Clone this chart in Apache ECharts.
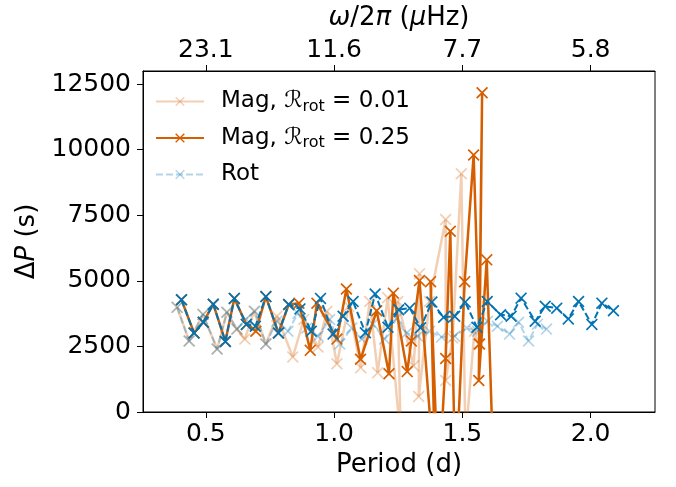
<!DOCTYPE html>
<html><head><meta charset="utf-8">
<script src="https://cdn.jsdelivr.net/npm/echarts@6/dist/echarts.min.js"></script>
<style>html,body{margin:0;padding:0;background:#fff}#c{width:676px;height:487px}</style>
</head><body><div id="c"></div>
<script>
// ---- data (Period in days, ΔP in seconds) ----
const rotDarkP = [0.405,0.454,0.490,0.529,0.576,0.611,0.658,0.693,0.734,0.783,0.823,0.867,0.911,0.947,0.996,1.035,1.074,1.122,1.160,1.210,1.252,1.295,1.337,1.381,1.427,1.470,1.511,1.557,1.597,1.649,1.690,1.729,1.784,1.823,1.868,1.913,1.953,2.005,2.044,2.089];
const rotDarkV = [4280,3010,3420,4110,2690,4330,3340,3270,4400,3010,4100,3930,3080,4330,2970,3650,4210,3020,4500,3230,3900,3960,3210,4190,3610,3650,4190,3230,4210,3710,3650,4340,3460,4030,3960,3550,4210,3340,4150,3860];

const mag025P = [0.405,0.454,0.490,0.529,0.576,0.611,0.658,0.695,0.734,0.783,0.823,0.863,0.907,0.933,1.011,1.048,1.103,1.166,1.214,1.231,1.285,1.301,1.333,1.396,1.376,1.407,1.435,1.453,1.473,1.509,1.544,1.567,1.577,1.564,1.595,1.624];
const mag025V = [4280,3010,3420,4110,2690,4330,3340,3080,4400,3010,4100,4150,2350,4150,2780,4690,2010,3860,1460,4530,1540,2710,5010,-3000,4970,-3000,2040,6890,-3000,4970,9800,2590,12170,1200,5800,-3000];

const rotLightP = [0.388,0.435,0.489,0.544,0.582,0.621,0.656,0.691,0.734,0.777,0.820,0.859,0.894,0.937,0.983,1.022,1.069,1.108,1.151,1.197,1.244,1.283,1.326,1.372,1.419,1.470,1.517,1.559,1.598,1.637,1.684,1.719,1.758,1.793,1.828];
const rotLightV = [3990,2705,3720,2400,3800,3160,3530,3840,2590,3460,3080,3760,3200,2890,3530,2590,3200,2780,3350,2780,3570,3010,2890,3080,2855,2890,3200,3080,3460,3270,2970,3420,2705,3350,3160];

const mag001P = [0.388,0.435,0.489,0.544,0.582,0.621,0.652,0.688,0.734,0.777,0.839,0.882,0.937,0.972,1.011,1.057,1.104,1.139,1.170,1.209,1.260,1.248,1.310,1.333,1.330,1.372,1.435,1.435,1.462,1.496,1.512,1.547,1.563];
const mag001V = [3990,2705,3720,2400,3800,3160,2780,3840,2590,3650,2100,3530,2480,3840,1840,4030,1690,4210,1500,4360,-1100,4210,1760,5270,590,4210,7340,1200,2820,9080,-1100,3080,2590];

const yTicks = [0,2500,5000,7500,10000,12500];
const xTicks = [0.5,1.0,1.5,2.0];
const topLabels = ['23.1','11.6','7.7','5.8'];

const ORANGE = '#d55e00', BLUE = '#0173b2';
const FONT = 'DejaVu Sans';
const XPATH = 'path://M0,1L1,0L5,4L9,0L10,1L6,5L10,9L9,10L5,6L1,10L0,9L4,5Z';

function pairs(p, v){ return p.map((x,i)=>[x, v[i]]); }

function ser(name, p, v, color, opacity, dashed, z){
  return {
    name, type:'line', data: pairs(p,v), z,
    symbol: XPATH, symbolSize: 12, showSymbol:true,
    clip: true, animation:false,
    lineStyle:{color, width: dashed?2:2.5, opacity, type: dashed?[7,3]:'solid'},
    itemStyle:{color, opacity},
    emphasis:{disabled:true}
  };
}

const chart = echarts.init(document.getElementById('c'), null, {renderer:'canvas'});
chart.setOption({
  backgroundColor:'#fff',
  textStyle:{fontFamily:FONT},
  grid:{left:143, right:21, top:67, bottom:75, show:true, borderColor:'#000', borderWidth:1, backgroundColor:'transparent'},
  legend:{
    show:true, orient:'vertical', left:150, top:85, itemWidth:48, itemHeight:12, itemGap:12,
    data:['mag001','mag025','rot'],
    textStyle:{fontFamily:FONT, fontSize:23, color:'#000', padding:[0,0,0,12],
      rich:{r:{fontFamily:FONT, fontSize:23, fontStyle:'italic'}, s:{fontFamily:FONT, fontSize:16, padding:[10,0,0,0]}}},
    formatter:function(n){
      if(n==='mag001') return 'Mag, {r|ℛ}{s|rot} = 0.01';
      if(n==='mag025') return 'Mag, {r|ℛ}{s|rot} = 0.25';
      return 'Rot';
    }
  },
  xAxis:[{
    type:'value', min:0.255, max:2.251, position:'bottom',
    axisLine:{show:true, onZero:false, lineStyle:{color:'#000', width:1}},
    axisTick:{show:true, length:6, lineStyle:{color:'#000'}, customValues:xTicks},
    axisLabel:{customValues:xTicks, fontSize:25, color:'#000', fontFamily:FONT, margin:10, formatter:v=>v.toFixed(1)},
    splitLine:{show:false},
    name:'Period (d)', nameLocation:'middle', nameGap:40,
    nameTextStyle:{fontSize:26, color:'#000', fontFamily:FONT}
  },{
    type:'value', min:0.255, max:2.251, position:'top',
    axisLine:{show:true, onZero:false, lineStyle:{color:'#000', width:1}},
    axisTick:{show:true, length:6, lineStyle:{color:'#000'}, customValues:xTicks},
    axisLabel:{customValues:xTicks, fontSize:25, color:'#000', fontFamily:FONT, margin:8,
      formatter:function(v){ const i = xTicks.findIndex(t=>Math.abs(t-v)<1e-6); return i>=0?topLabels[i]:''; }},
    splitLine:{show:false},
    name:'{i|ω}/2{i|π} ({i|μ}Hz)', nameLocation:'middle', nameGap:40,
    nameTextStyle:{fontSize:26, color:'#000', fontFamily:FONT, rich:{i:{fontSize:26, fontStyle:'italic', fontFamily:FONT}}}
  }],
  yAxis:{
    type:'value', min:0, max:13000,
    axisLine:{show:true, onZero:false, lineStyle:{color:'#000', width:1}},
    axisTick:{show:true, length:6, lineStyle:{color:'#000'}, customValues:yTicks},
    axisLabel:{customValues:yTicks, fontSize:25, color:'#000', fontFamily:FONT, margin:12, formatter:v=>String(v)},
    splitLine:{show:false},
    name:'Δ{i|P} (s)', nameLocation:'middle', nameGap:98, nameRotate:90,
    nameTextStyle:{fontSize:26, color:'#000', fontFamily:FONT, rich:{i:{fontSize:26, fontStyle:'italic', fontFamily:FONT}}}
  },
  series:[
    ser('mag001', mag001P, mag001V, ORANGE, 0.3, false, 1),
    ser('rot', rotLightP, rotLightV, BLUE, 0.3, true, 2),
    ser('mag025', mag025P, mag025V, ORANGE, 1, false, 3),
    ser('rotDark', rotDarkP, rotDarkV, BLUE, 1, true, 4)
  ]
});
</script></body></html>
